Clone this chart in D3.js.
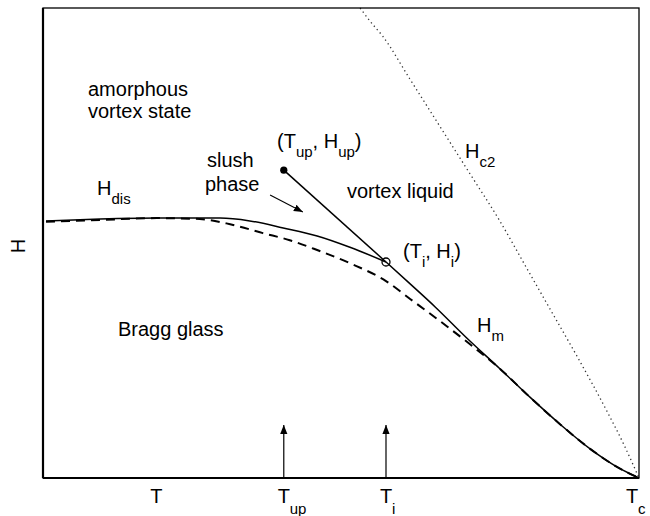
<!DOCTYPE html>
<html><head><meta charset="utf-8">
<script src="https://cdn.jsdelivr.net/npm/d3@7"></script>
<style>
body{margin:0;background:#fff}
svg{display:block}
text{font-family:"Liberation Sans",Arial,Helvetica,sans-serif;fill:#000}
</style>
</head><body>
<svg id="c" width="650" height="516"></svg>
<script>
// ---- data (T and H in reduced units, Tc = 1) ----
const T_up = 0.404, H_up = 0.655;
const T_i = 0.5755, H_i = 0.4596;
const disT = [0.005,0.096,0.191,0.297,0.347,0.403,0.460,0.515,0.5755];
const disH = [0.547,0.551,0.553,0.553,0.547,0.532,0.515,0.491,0.4596];
const meltT = [0.5755,0.616,0.658,0.711,0.767,0.817,0.867,0.918,0.960,0.985,1.0];
const meltH = [0.4596,0.413,0.364,0.298,0.232,0.172,0.115,0.062,0.026,0.009,0];
const dashT = [0.005,0.096,0.191,0.263,0.314,0.369,0.414,0.460,0.515,0.5755,0.616,0.666,0.716,0.767,0.817,0.867,0.918,0.960,0.985,1.0];
const dashH = [0.545,0.549,0.553,0.551,0.540,0.521,0.506,0.485,0.457,0.419,0.381,0.334,0.285,0.232,0.172,0.115,0.062,0.026,0.009,0];
const hc2T = [0.532,0.550,0.570,0.615,0.665,0.715,0.765,0.810,0.855,0.900,0.943,0.975,1.0];
const hc2H = [1.0,0.97,0.94,0.85,0.75,0.65,0.55,0.45,0.35,0.25,0.15,0.07,0];
const tickValues = [0.19, T_up, T_i, 1.0];
const tickMain = ["T","T","T","T"];
const tickSub = ["","up","i","c"];
const arrowH = 0.113;
const slushArrowT = [0.381, 0.436];
const slushArrowH = [0.602, 0.566];

// ---- layout ----
const PL = 43, PR = 639, PT = 8, PB = 478;
const svg = d3.select("#c");
const x = d3.scaleLinear().domain([0,1]).range([PL,PR]);
const y = d3.scaleLinear().domain([0,1]).range([PB,PT]);

const defs = svg.append("defs");
defs.append("marker").attr("id","ah").attr("viewBox","0 0 10 10")
  .attr("refX",10).attr("refY",5).attr("markerWidth",9).attr("markerHeight",9)
  .attr("markerUnits","userSpaceOnUse").attr("orient","auto")
  .append("path").attr("d","M0,1 L10,5 L0,9 Z").attr("fill","#000");

const pts = (ts,hs)=>ts.map((t,i)=>[t,hs[i]]);
const line = d3.line().x(d=>x(d[0])).y(d=>y(d[1])).curve(d3.curveMonotoneX);

// Hc2 dotted
svg.append("path").attr("d", line(pts(hc2T,hc2H))).attr("fill","none")
  .attr("stroke","#333").attr("stroke-width",1.3).attr("stroke-dasharray","1.3 3.2");
// dashed line
svg.append("path").attr("d", line(pts(dashT,dashH))).attr("fill","none")
  .attr("stroke","#000").attr("stroke-width",2).attr("stroke-dasharray","9 6");
// solid disorder line
svg.append("path").attr("d", line(pts(disT,disH))).attr("fill","none")
  .attr("stroke","#000").attr("stroke-width",1.5);
// melting line
svg.append("path").attr("d", line(pts(meltT,meltH))).attr("fill","none")
  .attr("stroke","#000").attr("stroke-width",1.5);
// upper branch
svg.append("path").attr("d", d3.line().x(d=>x(d[0])).y(d=>y(d[1]))([[T_up,H_up],[T_i,H_i]]))
  .attr("fill","none").attr("stroke","#000").attr("stroke-width",1.5);
svg.append("circle").attr("cx",x(T_up)).attr("cy",y(H_up)).attr("r",3.6).attr("fill","#000");
svg.append("circle").attr("cx",x(T_i)).attr("cy",y(H_i)).attr("r",4).attr("fill","none")
  .attr("stroke","#000").attr("stroke-width",1.3);

// vertical arrows at T_up and T_i
[T_up, T_i].forEach(t=>{
  svg.append("line").attr("x1",x(t)).attr("x2",x(t)).attr("y1",y(0)).attr("y2",y(arrowH))
    .attr("stroke","#000").attr("stroke-width",1.2).attr("marker-end","url(#ah)");
});
// slush arrow
svg.append("line").attr("x1",x(slushArrowT[0])).attr("y1",y(slushArrowH[0]))
  .attr("x2",x(slushArrowT[1])).attr("y2",y(slushArrowH[1]))
  .attr("stroke","#000").attr("stroke-width",1.1).attr("marker-end","url(#ah)");

// frame
svg.append("rect").attr("x",PL).attr("y",PT).attr("width",PR-PL).attr("height",PB-PT)
  .attr("fill","none").attr("stroke","#000").attr("stroke-width",1.3);
svg.append("line").attr("x1",PL).attr("x2",PL).attr("y1",PT).attr("y2",PB)
  .attr("stroke","#000").attr("stroke-width",2.2);
svg.append("line").attr("x1",PL).attr("x2",PR).attr("y1",PB).attr("y2",PB)
  .attr("stroke","#000").attr("stroke-width",2.2);

// bottom tick labels
tickValues.forEach((t,i)=>{
  const cx = i===3 ? x(t)-7 : x(t);
  svg.append("text").attr("x",cx).attr("y",503).attr("text-anchor","middle")
    .attr("font-size",20).text(tickMain[i]);
  if (tickSub[i]) svg.append("text").attr("x",cx+6).attr("y",514)
    .attr("font-size",15).text(tickSub[i]);
});
// y label
svg.append("text").attr("transform","translate(25,246) rotate(-90)")
  .attr("text-anchor","middle").attr("font-size",20).text("H");

// annotation helper
function label(px,py,parts){
  const t = svg.append("text").attr("x",px).attr("y",py).attr("font-size",20);
  parts.forEach(p=>{
    if (p[1]) t.append("tspan").attr("dy",9).attr("font-size",15).text(p[0]);
    else t.append("tspan").attr("dy",p[2]||0).text(p[0]);
  });
  return t;
}
label(88,96,[["amorphous"]]);
label(88,118,[["vortex state"]]);
label(277,148,[["(T"],["up",1],[", H",0,-9],["up",1],[")",0,-9]]);
label(207,167,[["slush"]]);
label(205,191,[["phase"]]);
label(97,195,[["H"],["dis",1]]);
label(347,198,[["vortex liquid"]]);
label(403,258,[["(T"],["i",1],[", H",0,-9],["i",1],[")",0,-9]]);
label(477,332,[["H"],["m",1]]);
label(465,158,[["H"],["c2",1]]);
label(118,336,[["Bragg glass"]]);
</script>
</body></html>
